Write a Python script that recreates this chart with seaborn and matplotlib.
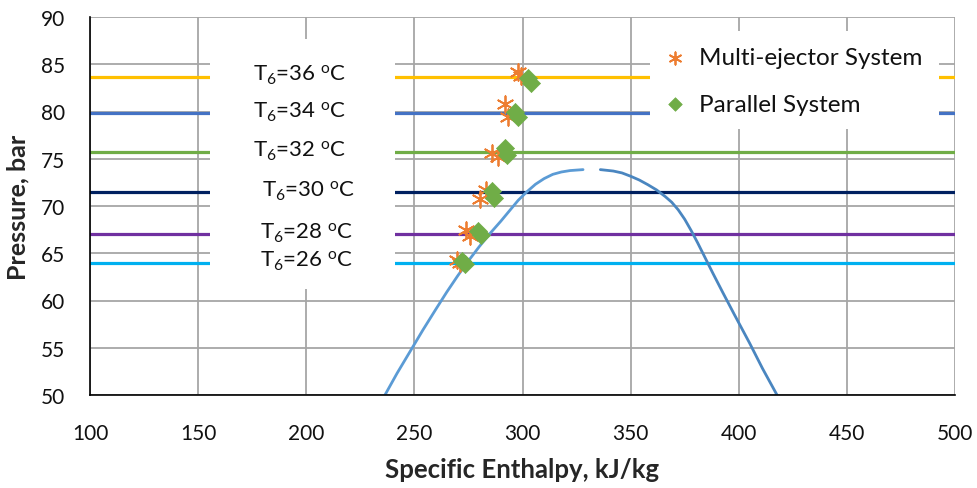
import matplotlib
matplotlib.use("Agg")
import matplotlib.pyplot as plt
import seaborn as sns
import pandas as pd
from matplotlib.patches import Rectangle

# Gas-cooler outlet temperatures and their operating pressures (bar)
temps = [36, 34, 32, 30, 28, 26]
line_pressures = [83.7, 79.8, 75.7, 71.5, 67.0, 64.0]
line_colors = ["#FFC000", "#4472C4", "#70AD47", "#002060", "#7030A0", "#00B0F0"]

# State points: specific enthalpy (kJ/kg) and pressure (bar)
multi_h = [298.0, 299.5, 292.0, 293.5, 286.0, 288.5, 283.0, 280.5, 274.0, 275.5, 269.5, 271.0]
multi_p = [84.2, 83.8, 80.8, 79.4, 75.6, 75.2, 71.7, 70.7, 67.5, 66.8, 64.3, 64.0]
par_h = [302.5, 304.0, 296.5, 298.0, 292.0, 293.0, 286.0, 287.0, 279.5, 281.0, 272.0, 273.5]
par_p = [83.5, 83.0, 80.0, 79.4, 76.1, 75.4, 71.6, 70.8, 67.4, 66.9, 64.2, 63.9]

# CO2 saturation dome: liquid and vapour branches
liq_h = [236.4, 242.0, 248.0, 254.0, 260.0, 265.0, 270.0, 275.0, 280.0, 285.0,
         290.0, 294.0, 298.0, 302.0, 306.0, 310.0, 314.0, 318.0, 322.0, 328.0]
liq_p = [50.0, 52.3, 54.6, 56.9, 59.1, 60.9, 62.6, 64.2, 65.7, 67.1,
         68.4, 69.5, 70.6, 71.5, 72.3, 72.9, 73.35, 73.6, 73.75, 73.85]
vap_h = [336.0, 342.0, 346.0, 350.0, 354.0, 358.0, 362.0, 366.0, 369.0, 372.0,
         375.0, 378.0, 381.0, 384.5, 388.0, 392.5, 398.0, 405.0, 411.0, 417.7]
vap_p = [73.85, 73.7, 73.5, 73.15, 72.75, 72.25, 71.7, 71.0, 70.4, 69.6,
         68.6, 67.4, 66.1, 64.5, 62.9, 60.9, 58.5, 55.5, 52.8, 50.0]

x_ticks = [100, 150, 200, 250, 300, 350, 400, 450, 500]
y_ticks = [50, 55, 60, 65, 70, 75, 80, 85, 90]

sns.set_theme(style="white")
plt.rcParams["font.family"] = ["Lato", "DejaVu Sans"]
plt.rcParams["mathtext.fontset"] = "custom"
plt.rcParams["mathtext.rm"] = "Lato"
plt.rcParams["mathtext.it"] = "Lato:italic"
plt.rcParams["mathtext.bf"] = "Lato:bold"

W, H = 977, 489
fig = plt.figure(figsize=(W / 100, H / 100), dpi=100)
ax = fig.add_axes([90 / W, 93 / H, 865 / W, 378 / H])

ax.set_xlim(100, 500)
ax.set_ylim(50, 90)
ax.set_xticks(x_ticks)
ax.set_yticks(y_ticks)
ax.set_axisbelow(True)
ax.grid(True, color="#A6A6A6", lw=1.3)
for side in ("top", "right"):
    ax.spines[side].set_visible(False)
for side in ("left", "bottom"):
    ax.spines[side].set_color("black")
    ax.spines[side].set_linewidth(1.2)
    ax.spines[side].set_zorder(6)
ax.tick_params(axis="both", direction="out", length=5, width=1.2, color="black",
               labelsize=15, labelcolor="#111111")
ax.tick_params(axis="y", pad=13)
ax.tick_params(axis="x", pad=15)

# Isobars for each gas-cooler outlet temperature
for p, c in zip(line_pressures, line_colors):
    ax.axhline(p, color=c, lw=2.3, zorder=2)

# White panels behind the temperature labels and the legend
ax.add_patch(Rectangle((0.1387, 0.280), 0.2139, 0.661, transform=ax.transAxes,
                       facecolor="white", edgecolor="none", zorder=3))
ax.add_patch(Rectangle((0.647, 0.704), 0.335, 0.259, transform=ax.transAxes,
                       facecolor="white", edgecolor="none", zorder=3))

# Saturation dome
sns.lineplot(x=liq_h, y=liq_p, sort=False, color="#5B9BD5", lw=2.0, ax=ax, zorder=4)
sns.lineplot(x=vap_h, y=vap_p, sort=False, color="#4A86C0", lw=2.0, ax=ax, zorder=4)

df_multi = pd.DataFrame({"h": multi_h, "p": multi_p})
df_par = pd.DataFrame({"h": par_h, "p": par_p})
sns.scatterplot(data=df_multi, x="h", y="p", marker=(6, 2, 0), s=140, color="#ED7D31",
                edgecolor="#ED7D31", linewidth=1.3, ax=ax, zorder=5, label="Multi-ejector System")
sns.scatterplot(data=df_par, x="h", y="p", marker="D", s=85, color="#70AD47",
                edgecolor="#70AD47", linewidth=0.5, ax=ax, zorder=5, label="Parallel System")

# Temperature labels
label_x = [197, 197, 197, 201, 200, 200]
for t, p, lx in zip(temps, line_pressures, label_x):
    ax.text(lx, p + 0.2, r"T$_6$=%d $^{\mathrm{o}}$C" % t, ha="center", va="center",
            fontsize=16, color="#111111", zorder=7)

ax.set_xlabel("Specific Enthalpy, kJ/kg", fontsize=18.5, fontweight="bold", labelpad=10)
ax.set_ylabel("Pressure, bar", fontsize=18, fontweight="bold", labelpad=8)

leg = ax.legend(loc="upper left", bbox_to_anchor=(0.651, 0.952), frameon=False,
                fontsize=17.5, borderpad=0, labelspacing=1.05, handlelength=0.8,
                handletextpad=0.6, markerscale=0.75)
leg.set_zorder(8)
for txt in leg.get_texts():
    txt.set_color("#111111")

fig.savefig("out.png", dpi=100)
